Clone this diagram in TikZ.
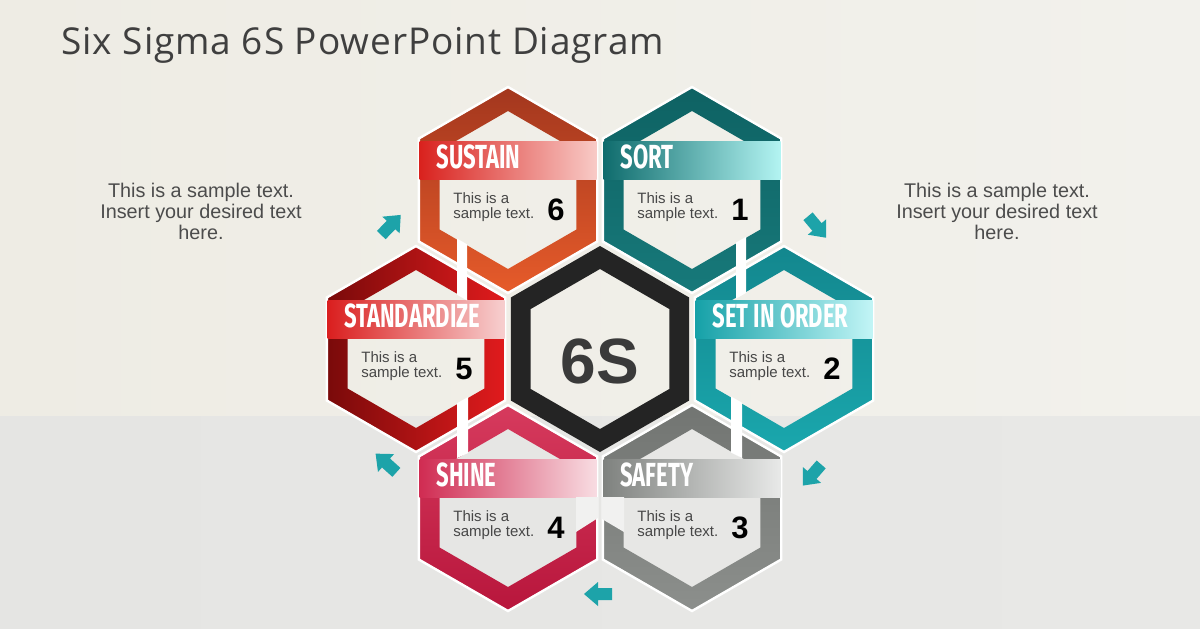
\documentclass[tikz,border=0pt]{standalone}
\usepackage{fontspec}
\setmainfont{Liberation Sans}
\newfontfamily\titlefont[LetterSpace=2.5]{Open Sans}
\newfontfamily\bandfont[FakeStretch=0.66]{Fira Sans}
\usetikzlibrary{calc,positioning}

\definecolor{bgtopl}{HTML}{EEECE4}
\definecolor{bgtopm}{HTML}{FBFAF8}
\definecolor{bgtopr}{HTML}{F2F1EC}
\definecolor{bgbotl}{HTML}{E5E5E3}
\definecolor{bgbotm}{HTML}{EFEFEE}
\definecolor{bgbotr}{HTML}{E8E8E6}
\definecolor{gapgray}{HTML}{F1F1F0}
\definecolor{titlegray}{HTML}{3F3F3F}
\definecolor{sixgray}{HTML}{3A3A3A}
\definecolor{ringblack}{HTML}{242424}
\definecolor{arrowteal}{HTML}{1DA3A9}
% ring and band colours, one set per step
\definecolor{sortA}{HTML}{0E6263}\definecolor{sortB}{HTML}{17797A}
\definecolor{sortL}{HTML}{0F6C6D}\definecolor{sortR}{HTML}{B3F4F2}
\definecolor{setA}{HTML}{13878E}\definecolor{setB}{HTML}{1AA7AD}
\definecolor{setL}{HTML}{16A1A8}\definecolor{setR}{HTML}{C2F5F6}
\definecolor{safeA}{HTML}{727572}\definecolor{safeB}{HTML}{8C8F8C}
\definecolor{safeL}{HTML}{7F827F}\definecolor{safeR}{HTML}{E8E9E8}
\definecolor{shineA}{HTML}{D63A5D}\definecolor{shineB}{HTML}{B8163C}
\definecolor{shineL}{HTML}{D02C52}\definecolor{shineR}{HTML}{F8DCE2}
\definecolor{stdA}{HTML}{7A0A0A}\definecolor{stdB}{HTML}{E01B1D}
\definecolor{stdL}{HTML}{DA1F1F}\definecolor{stdR}{HTML}{F7CFCF}
\definecolor{susA}{HTML}{A3371E}\definecolor{susB}{HTML}{E65B2A}
\definecolor{susL}{HTML}{D9221E}\definecolor{susR}{HTML}{F8CAC6}

\tikzset{
  hexpath/.style 2 args={insert path={($(#1)+(30:#2)$) -- ($(#1)+(90:#2)$) -- ($(#1)+(150:#2)$)
      -- ($(#1)+(210:#2)$) -- ($(#1)+(270:#2)$) -- ($(#1)+(330:#2)$) -- cycle}},
  band label/.style={font=\bandfont\bfseries\fontsize{16.7}{16.7}\selectfont, text=white,
      anchor=base west, inner sep=0pt},
  sample/.style={font=\fontsize{7.5}{7.5}\selectfont, text=black!72, align=left,
      anchor=base west, inner sep=0pt},
  stepnum/.style={font=\bfseries\fontsize{15.5}{15.5}\selectfont, anchor=base, inner sep=0pt},
  side text/.style={font=\fontsize{9.9}{10.5}\selectfont, text=black!70, align=center,
      anchor=base, inner sep=0pt},
  flow arrow/.style={fill=arrowteal},
  ringgap/.style={fill=white},
}

% #1 name, #2 centre, #3 ring shading, #4/#5 band colours, #6 label, #7 number
\newcommand{\sigmacell}[7]{
  \coordinate (#1) at (#2);
  \shade[even odd rule, #3, hexpath={#1}{102}, hexpath={#1}{79}];
  \draw[white, line width=1.2pt, hexpath={#1}{103}];
  \shade[left color=#4, right color=#5] ($(#1)+(-88.5,-49)$) rectangle ($(#1)+(88.5,-11)$);
  \node[band label] (#1-title) at ($(#1)+(-72,-22)$) {#6};
  \node[sample] (#1-text) at ($(#1)+(-55,28)$) {This is a\\sample text.};
  \node[stepnum] (#1-num) at ($(#1)+(48,30)$) {#7};
}

\newcommand{\flowarrow}[3]{
  \fill[flow arrow, shift={(#2)}, rotate=#3] (-14,-6) -- (0,-6) -- (0,-12) -- (14,0)
      -- (0,12) -- (0,6) -- (-14,6) -- cycle;
  \coordinate (#1) at (#2);
}

\begin{document}
\begin{tikzpicture}[x=0.5pt, y=-0.5pt]
  \useasboundingbox (0,0) rectangle (1200,628);
  % background
  \shade[left color=bgtopl, middle color=bgtopm, right color=bgtopr] (0,0) rectangle (1200,416);
  \shade[left color=bgbotl, middle color=bgbotm, right color=bgbotr] (0,416) rectangle (1200,628);

  \node[anchor=base west, font=\titlefont\fontsize{18.5}{19}\selectfont, text=titlegray, inner sep=0pt]
      (title) at (61,54) {Six Sigma 6S PowerPoint Diagram};

  % centre hexagon
  \coordinate (core) at (600,349);
  \fill[ringblack, even odd rule, hexpath={core}{103}, hexpath={core}{80}];
  \node[font=\bfseries\fontsize{32}{32}\selectfont, text=sixgray, anchor=base] (six) at (600,383) {6S};

  % six steps round it
  \sigmacell{sort}{692,190}{top color=sortA, bottom color=sortB}{sortL}{sortR}{SORT}{1}
  \sigmacell{order}{784,349}{top color=setA, bottom color=setB}{setL}{setR}{SET IN ORDER}{2}
  \sigmacell{safety}{692,508}{top color=safeA, bottom color=safeB}{safeL}{safeR}{SAFETY}{3}
  \sigmacell{shine}{508,508}{top color=shineA, bottom color=shineB}{shineL}{shineR}{SHINE}{4}
  \sigmacell{standard}{416,349}{left color=stdA, right color=stdB}{stdL}{stdR}{STANDARDIZE}{5}
  \sigmacell{sustain}{508,190}{top color=susA, bottom color=susB}{susL}{susR}{SUSTAIN}{6}

  % gaps where neighbouring rings cross
  \fill[ringgap] (457,238.6) -- (467,244.3) -- (467,300.4) -- (457,294.7) -- cycle;
  \fill[ringgap] (736,242.6) -- (746,236.8) -- (746,292.9) -- (736,298.7) -- cycle;
  \fill[ringgap] (731,396.4) -- (742,402.7) -- (742,458) -- (731,452.5) -- cycle;
  \fill[ringgap] (457,403.3) -- (468,397.0) -- (468,453.1) -- (457,458) -- cycle;
  \fill[gapgray] ($(shine)+(68,-11)$) -- ($(shine)+(90,-11)$) -- ($(shine)+(90,10)$)
      -- ($(shine)+(68,24)$) -- cycle;
  \fill[gapgray] ($(safety)+(-90,-11)$) -- ($(safety)+(-68,-11)$) -- ($(safety)+(-68,24)$)
      -- ($(safety)+(-90,11)$) -- cycle;

  % arrows between the steps
  \flowarrow{a1}{817,227}{-50}
  \flowarrow{a2}{812,475}{-131}
  \flowarrow{a3}{598,594}{180}
  \flowarrow{a4}{386,463}{138}
  \flowarrow{a5}{391,225}{46}

  \node[side text] (lefttext) at (201,239) {This is a sample text.\\Insert your desired text\\here.};
  \node[side text] (righttext) at (997,239) {This is a sample text.\\Insert your desired text\\here.};
\end{tikzpicture}
\end{document}
